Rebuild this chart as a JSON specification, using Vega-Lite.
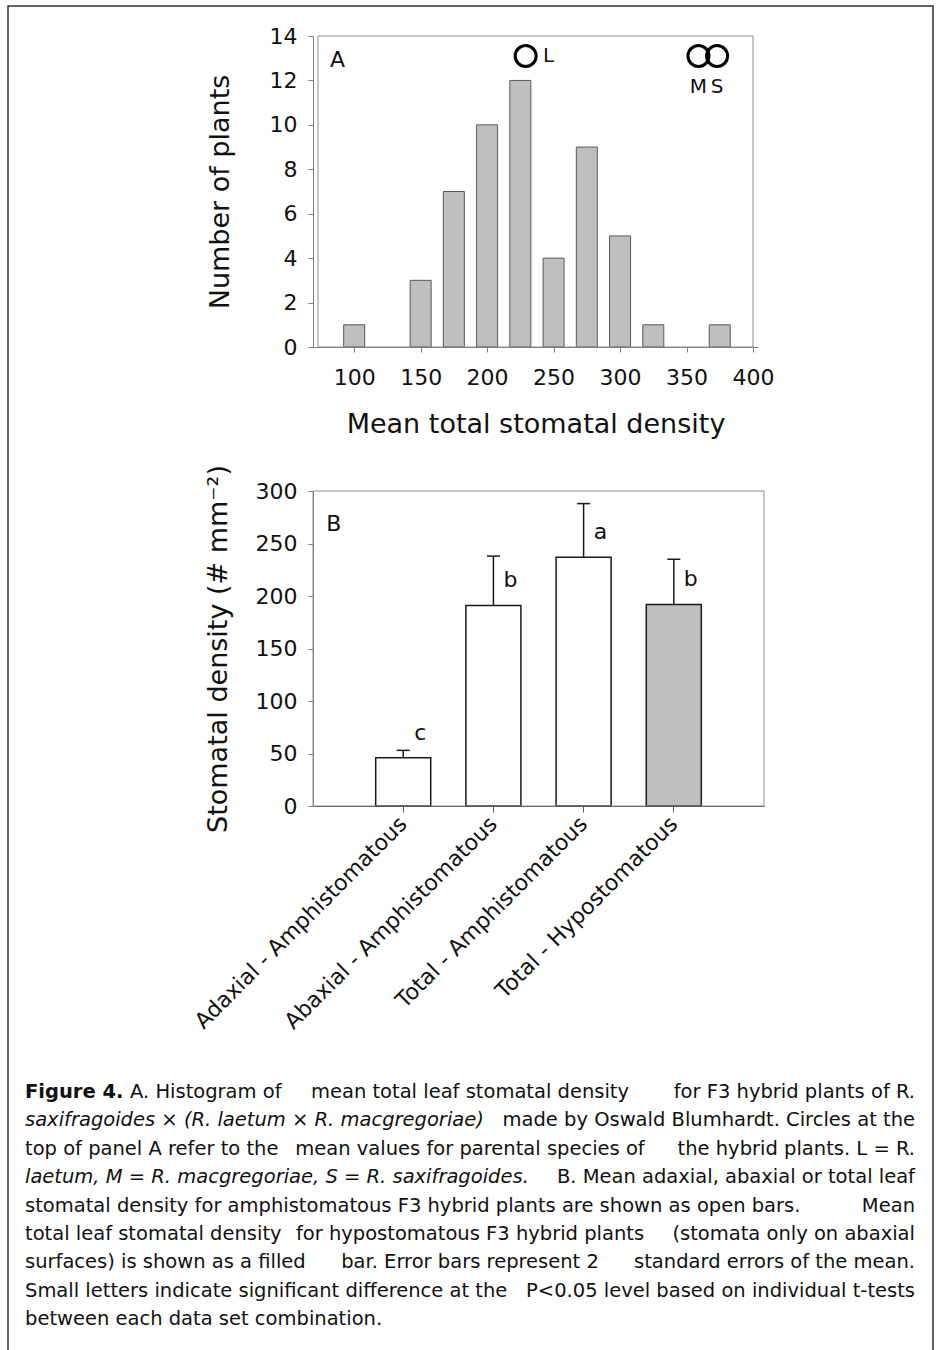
{
  "$schema": "https://vega.github.io/schema/vega-lite/v6.json",
  "width": 925,
  "height": 1350,
  "autosize": "none",
  "padding": {"left": 8, "top": 6, "right": 5, "bottom": 0},
  "background": "white",
  "config": {
    "view": {"stroke": "#333333", "strokeWidth": 1.5},
    "font": "DejaVu Sans",
    "axis": {
      "labelFont": "DejaVu Sans",
      "titleFont": "DejaVu Sans",
      "titleFontWeight": "normal",
      "labelColor": "#111111",
      "titleColor": "#111111",
      "domainColor": "#7f7f7f",
      "tickColor": "#7f7f7f",
      "grid": false,
      "labelFontSize": 22,
      "titleFontSize": 27
    },
    "text": {"font": "DejaVu Sans", "color": "#111111"}
  },
  "datasets": {
    "parents": [
      {"species": "L", "mean": 229},
      {"species": "M", "mean": 359},
      {"species": "S", "mean": 373}
    ]
  },
  "resolve": {
    "scale": {"x": "independent", "y": "independent"},
    "axis": {"x": "independent", "y": "independent"}
  },
  "layer": [
    {
      "layer": [
        {
          "data": {"values": [
            {"density": 100, "plants": 1},
            {"density": 150, "plants": 3},
            {"density": 175, "plants": 7},
            {"density": 200, "plants": 10},
            {"density": 225, "plants": 12},
            {"density": 250, "plants": 4},
            {"density": 275, "plants": 9},
            {"density": 300, "plants": 5},
            {"density": 325, "plants": 1},
            {"density": 375, "plants": 1}
          ]},
          "mark": {"type": "bar", "width": 21, "fill": "#bfbfbf", "stroke": "#595959", "strokeWidth": 1},
          "encoding": {
            "x": {
              "field": "density", "type": "quantitative",
              "scale": {"domain": [72.8, 400], "range": [305, 750], "nice": false, "zero": false},
              "axis": {"orient": "bottom", "offset": -1009, "values": [100, 150, 200, 250, 300, 350, 400], "format": "d", "tickSize": 5, "labelPadding": 15, "title": "Mean total stomatal density", "titlePadding": 23}
            },
            "y": {
              "field": "plants", "type": "quantitative",
              "scale": {"domain": [0, 14], "range": [341, 30], "nice": false},
              "axis": {"orient": "left", "offset": -305, "values": [0, 2, 4, 6, 8, 10, 12, 14], "format": "d", "tickSize": 5, "labelPadding": 11, "title": "Number of plants", "titlePadding": 35}
            }
          }
        },
        {
          "data": {"values": [{"panel": "A"}]},
          "mark": {"type": "rect", "fill": "transparent", "stroke": "#8c8c8c", "strokeWidth": 1},
          "encoding": {
            "x": {"datum": 72.8, "type": "quantitative"},
            "x2": {"datum": 400},
            "y": {"datum": 0, "type": "quantitative"},
            "y2": {"datum": 14}
          }
        },
        {
          "data": {"values": [{"panel": "A"}]},
          "mark": {"type": "text", "fontSize": 22, "align": "center", "baseline": "middle"},
          "encoding": {
            "x": {"datum": 87.5, "type": "quantitative"},
            "y": {"datum": 12.9, "type": "quantitative"},
            "text": {"field": "panel"}
          }
        },
        {
          "data": {"name": "parents"},
          "mark": {"type": "point", "shape": "circle", "filled": false, "stroke": "#000000", "strokeWidth": 3, "size": 441, "opacity": 1},
          "encoding": {
            "x": {"field": "mean", "type": "quantitative"},
            "y": {"datum": 13.1, "type": "quantitative"}
          }
        },
        {
          "data": {"name": "parents"},
          "transform": [{"filter": "datum.species == 'L'"}],
          "mark": {"type": "text", "fontSize": 20, "dx": 23, "baseline": "middle", "align": "center"},
          "encoding": {
            "x": {"field": "mean", "type": "quantitative"},
            "y": {"datum": 13.1, "type": "quantitative"},
            "text": {"field": "species"}
          }
        },
        {
          "data": {"name": "parents"},
          "transform": [{"filter": "datum.species != 'L'"}],
          "mark": {"type": "text", "fontSize": 20, "dy": 31, "baseline": "middle", "align": "center"},
          "encoding": {
            "x": {"field": "mean", "type": "quantitative"},
            "y": {"datum": 13.1, "type": "quantitative"},
            "text": {"field": "species"}
          }
        }
      ]
    },
    {
      "resolve": {"scale": {"x": "independent"}, "axis": {"x": "independent"}},
      "layer": [
        {
          "data": {"values": [
            {"treatment": "Adaxial - Amphistomatous", "stomata": "Amphistomatous", "mean": 46, "upper": 53, "letter": "c"},
            {"treatment": "Abaxial - Amphistomatous", "stomata": "Amphistomatous", "mean": 191, "upper": 238, "letter": "b"},
            {"treatment": "Total - Amphistomatous", "stomata": "Amphistomatous", "mean": 237, "upper": 288, "letter": "a"},
            {"treatment": "Total - Hypostomatous", "stomata": "Hypostomatous", "mean": 192, "upper": 235, "letter": "b"}
          ]},
          "layer": [
            {
              "mark": {"type": "bar", "stroke": "#1a1a1a", "strokeWidth": 1.5},
              "encoding": {
                "x": {
                  "field": "treatment", "type": "nominal", "sort": null,
                  "scale": {"type": "band", "range": [305, 756], "paddingInner": 0.39, "paddingOuter": 0.695},
                  "axis": {"orient": "bottom", "offset": -550, "title": null, "labelAngle": -45, "labelAlign": "right", "labelBaseline": "middle", "tickSize": 6, "labelPadding": 8, "labelFontSize": 22, "labelLimit": 0, "domainColor": "#555555", "tickColor": "#555555"}
                },
                "y": {
                  "field": "mean", "type": "quantitative",
                  "scale": {"domain": [0, 300], "range": [800, 485], "nice": false},
                  "axis": {"orient": "left", "offset": -305, "values": [0, 50, 100, 150, 200, 250, 300], "format": "d", "tickSize": 5, "labelPadding": 11, "title": "Stomatal density (# mm⁻²)", "titlePadding": 23}
                },
                "fill": {"field": "stomata", "type": "nominal", "scale": {"domain": ["Amphistomatous", "Hypostomatous"], "range": ["#ffffff", "#bfbfbf"]}, "legend": null}
              }
            },
            {
              "mark": {"type": "rule", "stroke": "#1a1a1a", "strokeWidth": 1.5},
              "encoding": {
                "x": {"field": "treatment", "type": "nominal", "sort": null},
                "y": {"field": "mean", "type": "quantitative"},
                "y2": {"field": "upper"}
              }
            },
            {
              "mark": {"type": "tick", "orient": "horizontal", "size": 13, "thickness": 1.5, "color": "#1a1a1a", "opacity": 1},
              "encoding": {
                "x": {"field": "treatment", "type": "nominal", "sort": null},
                "y": {"field": "upper", "type": "quantitative"}
              }
            },
            {
              "mark": {"type": "text", "fontSize": 22, "dx": 17, "dy": -25, "align": "center", "baseline": "middle"},
              "encoding": {
                "x": {"field": "treatment", "type": "nominal", "sort": null},
                "y": {"field": "mean", "type": "quantitative"},
                "text": {"field": "letter"}
              }
            }
          ]
        },
        {
          "data": {"values": [{"panel": "B"}]},
          "layer": [
            {
              "mark": {"type": "rect", "fill": "transparent", "stroke": "#8c8c8c", "strokeWidth": 1},
              "encoding": {
                "x": {"datum": 0, "type": "quantitative", "scale": {"domain": [0, 1], "range": [305, 756], "nice": false, "zero": false}, "axis": null},
                "x2": {"datum": 1},
                "y": {"datum": 0, "type": "quantitative"},
                "y2": {"datum": 300}
              }
            },
            {
              "mark": {"type": "text", "fontSize": 22, "align": "center", "baseline": "middle"},
              "encoding": {
                "x": {"datum": 0.046, "type": "quantitative", "axis": null},
                "y": {"datum": 269, "type": "quantitative"},
                "text": {"field": "panel"}
              }
            }
          ]
        }
      ]
    },
    {
      "data": {"values": [
        {"line": 1, "bold": "Figure 4.", "lead": "A. Histogram of", "mid": "mean total leaf stomatal density", "right": "for F3 hybrid plants of R."},
        {"line": 2, "italic": "saxifragoides × (R. laetum × R. macgregoriae)", "right": "made by Oswald Blumhardt. Circles at the"},
        {"line": 3, "left": "top of panel A refer to the", "mid": "mean values for parental species of", "right": "the hybrid plants. L = R."},
        {"line": 4, "italic": "laetum, M = R. macgregoriae, S = R. saxifragoides.", "right": "B. Mean adaxial, abaxial or total leaf"},
        {"line": 5, "left": "stomatal density for amphistomatous F3 hybrid plants are shown as open bars.", "right": "Mean"},
        {"line": 6, "left": "total leaf stomatal density", "mid": "for hypostomatous F3 hybrid plants", "right": "(stomata only on abaxial"},
        {"line": 7, "left": "surfaces) is shown as a filled", "mid": "bar. Error bars represent 2", "right": "standard errors of the mean."},
        {"line": 8, "left": "Small letters indicate significant difference at the", "right": "P<0.05 level based on individual t-tests"},
        {"line": 9, "left": "between each data set combination."}
      ]},
      "layer": [
        {
          "transform": [{"filter": "isValid(datum.bold)"}],
          "mark": {"type": "text", "align": "left", "baseline": "middle", "fontSize": 19.5, "fontWeight": "bold"},
          "encoding": {
            "x": {"datum": 0, "type": "quantitative", "scale": {"domain": [0, 1], "range": [17, 907], "nice": false, "zero": false}, "axis": null},
            "y": {"field": "line", "type": "quantitative", "scale": {"domain": [1, 9], "range": [1086, 1313], "nice": false, "zero": false}, "axis": null},
            "text": {"field": "bold"}
          }
        },
        {
          "transform": [{"filter": "isValid(datum.lead)"}],
          "mark": {"type": "text", "align": "left", "baseline": "middle", "fontSize": 19.5, "dx": 105},
          "encoding": {
            "x": {"datum": 0, "type": "quantitative", "axis": null},
            "y": {"field": "line", "type": "quantitative", "axis": null},
            "text": {"field": "lead"}
          }
        },
        {
          "transform": [{"filter": "isValid(datum.italic)"}],
          "mark": {"type": "text", "align": "left", "baseline": "middle", "fontSize": 19.5, "fontStyle": "italic"},
          "encoding": {
            "x": {"datum": 0, "type": "quantitative", "axis": null},
            "y": {"field": "line", "type": "quantitative", "axis": null},
            "text": {"field": "italic"}
          }
        },
        {
          "transform": [{"filter": "isValid(datum.left)"}],
          "mark": {"type": "text", "align": "left", "baseline": "middle", "fontSize": 19.5},
          "encoding": {
            "x": {"datum": 0, "type": "quantitative", "axis": null},
            "y": {"field": "line", "type": "quantitative", "axis": null},
            "text": {"field": "left"}
          }
        },
        {
          "transform": [{"filter": "isValid(datum.mid)"}],
          "mark": {"type": "text", "align": "center", "baseline": "middle", "fontSize": 19.5},
          "encoding": {
            "x": {"datum": 0.5, "type": "quantitative", "axis": null},
            "y": {"field": "line", "type": "quantitative", "axis": null},
            "text": {"field": "mid"}
          }
        },
        {
          "transform": [{"filter": "isValid(datum.right)"}],
          "mark": {"type": "text", "align": "right", "baseline": "middle", "fontSize": 19.5},
          "encoding": {
            "x": {"datum": 1, "type": "quantitative", "axis": null},
            "y": {"field": "line", "type": "quantitative", "axis": null},
            "text": {"field": "right"}
          }
        }
      ]
    }
  ]
}
